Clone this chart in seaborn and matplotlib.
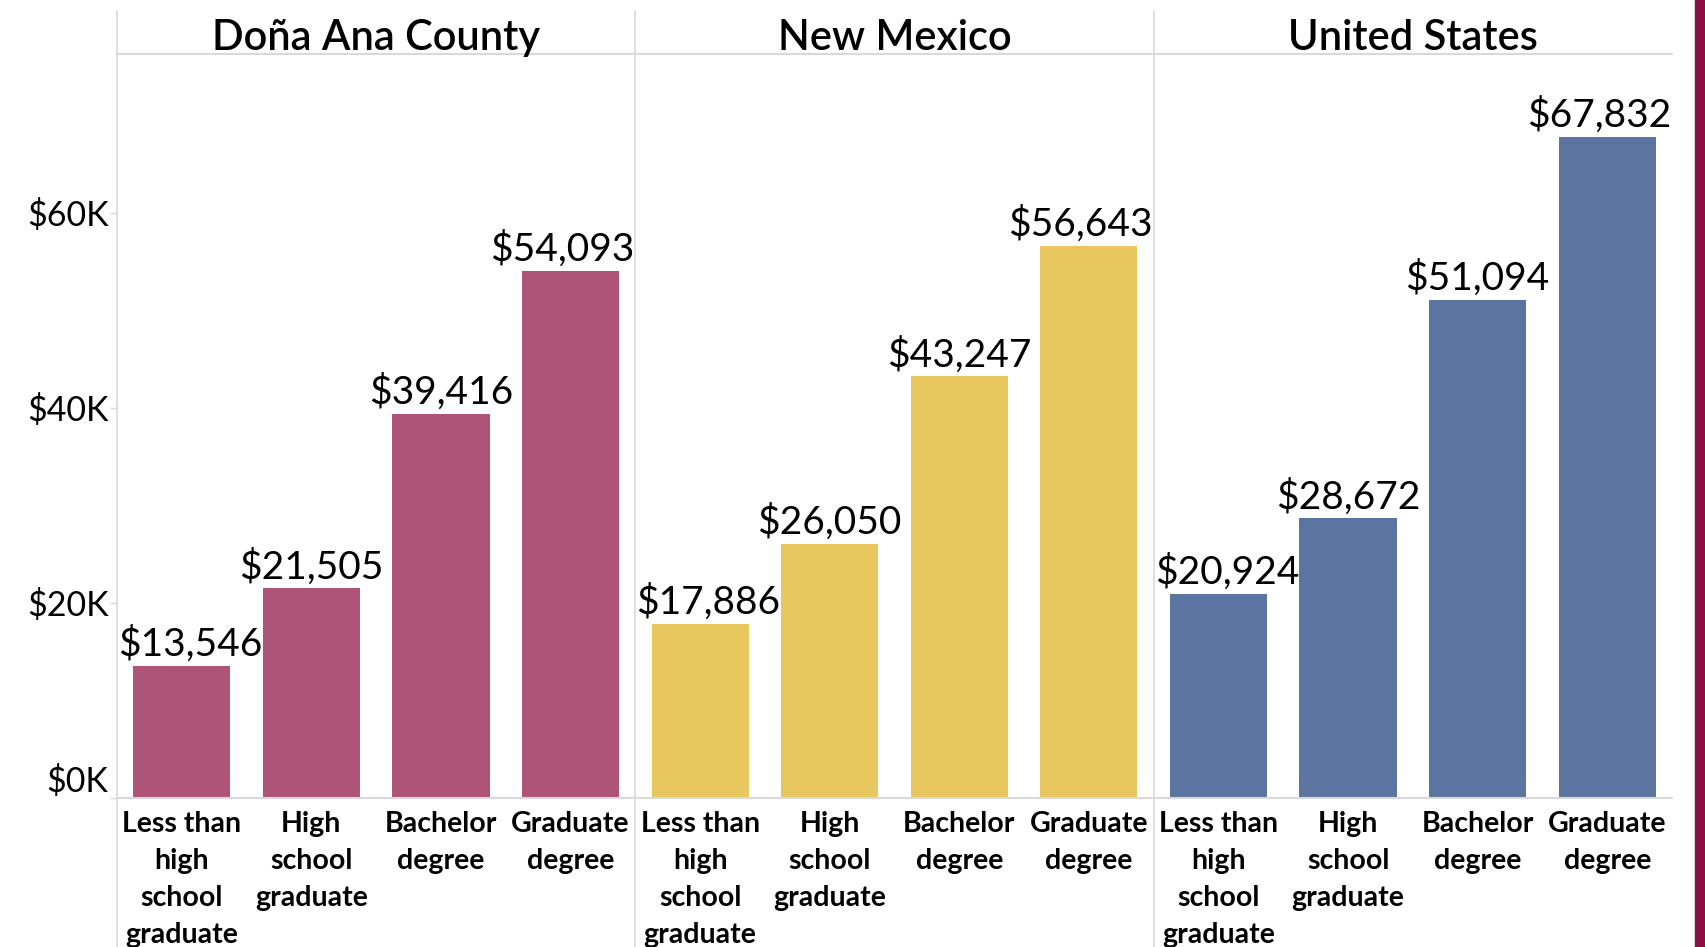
import numpy as np
import pandas as pd
import matplotlib
matplotlib.use("Agg")
import matplotlib.pyplot as plt
import seaborn as sns
from matplotlib.lines import Line2D
from matplotlib.patches import Rectangle

# ---------------- data ----------------
regions = ["Doña Ana County", "New Mexico", "United States"]
education = ["Less than\nhigh\nschool\ngraduate", "High\nschool\ngraduate",
             "Bachelor\ndegree", "Graduate\ndegree"]
dona_ana = [13546, 21505, 39416, 54093]
new_mexico = [17886, 26050, 43247, 56643]
united_states = [20924, 28672, 51094, 67832]
y_ticks = [0, 20000, 40000, 60000]
y_tick_labels = ["$0K", "$20K", "$40K", "$60K"]
region_colors = ["#AE5479", "#E9C75F", "#5B74A0"]

series = [dona_ana, new_mexico, united_states]

# ---------------- style ----------------
sns.set_theme(style="white")
plt.rcParams['font.family'] = ['Lato', 'DejaVu Sans']

W, H = 1705, 947
fig = plt.figure(figsize=(W / 100, H / 100), dpi=100)
fig.patch.set_facecolor("white")

GRID = "#d9d9d9"
left0, top_px, base_px = 117, 54, 798
panel_w = (1672 - left0) / 3.0


def fx(px):
    return px / W


def fy(py):
    return 1 - py / H


axes = []
for k, (reg, vals, col) in enumerate(zip(regions, series, region_colors)):
    l = left0 + k * panel_w
    ax = fig.add_axes([fx(l), fy(base_px), panel_w / W, (base_px - top_px) / H])
    df = pd.DataFrame({"education": education, "earnings": vals})
    sns.barplot(data=df, x="education", y="earnings", color=col, saturation=1,
                width=0.75, linewidth=0, ax=ax, errorbar=None)
    ax.set_xlim(-0.5, 3.5)
    ax.set_ylim(0, 76300)
    ax.set_xlabel("")
    ax.set_ylabel("")
    for s in ax.spines.values():
        s.set_visible(False)
    ax.set_facecolor("none")
    ax.tick_params(axis="x", length=0, pad=9)
    for t in ax.get_xticklabels():
        t.set_fontsize(20.5)
        t.set_fontweight("bold")
        t.set_linespacing(1.53)
        t.set_color("black")
    ax.set_yticks(y_ticks)
    if k == 0:
        ax.set_yticklabels(y_tick_labels, fontsize=24.5, color="black")
        ax.tick_params(axis="y", length=5, color=GRID, width=1, pad=1, left=True)
        ax.get_yticklabels()[0].set_va("bottom")
    else:
        ax.set_yticklabels([])
        ax.tick_params(axis="y", length=0)
    # value labels
    for i, v in enumerate(vals):
        ax.annotate(f"${v:,}", xy=(i, v), xytext=(0, 2), textcoords="offset points",
                    ha="center", va="bottom", fontsize=28, color="black")
    # panel header
    fig.text(fx(l + panel_w / 2), fy(38), reg, ha="center", va="center",
             fontsize=30, fontweight="semibold", color="black")
    axes.append(ax)

# keep value labels inside their panel
fig.canvas.draw()
renderer = fig.canvas.get_renderer()
for ax in axes:
    abox = ax.get_window_extent(renderer)
    for t in ax.texts:
        bb = t.get_window_extent(renderer)
        shift = 0
        if bb.x0 < abox.x0:
            shift = abox.x0 - bb.x0 + 1
        elif bb.x1 > abox.x1:
            shift = abox.x1 - bb.x1 - 1
        if shift:
            ox, oy = t.xyann
            t.xyann = (ox + shift * 72 / fig.dpi, oy)

# frame lines
for k in range(3):
    x = left0 + k * panel_w
    fig.add_artist(Line2D([fx(x), fx(x)], [fy(11), fy(H)], color=GRID, lw=1.2,
                          transform=fig.transFigure))
fig.add_artist(Line2D([fx(left0), fx(1672)], [fy(top_px), fy(top_px)], color=GRID,
                      lw=1.5, transform=fig.transFigure))
fig.add_artist(Line2D([fx(left0), fx(1672)], [fy(base_px), fy(base_px)], color=GRID,
                      lw=1.5, transform=fig.transFigure))
fig.add_artist(Rectangle((fx(1695), 0), fx(10), 1, color="#8C0F44",
                         transform=fig.transFigure))

fig.savefig("out.png", dpi=100, facecolor="white")
